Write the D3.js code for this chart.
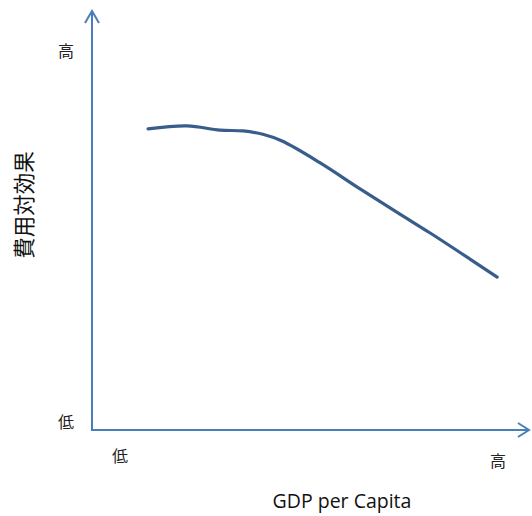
<!DOCTYPE html>
<html><head><meta charset="utf-8">
<script src="https://cdn.jsdelivr.net/npm/d3@7"></script>
<style>html,body{margin:0;padding:0;background:#fff;}svg{display:block;}</style>
</head><body>
<svg id="c" width="532" height="516"></svg>
<script>
const gdp = [12.8, 21.7, 29.2, 34.5, 39.0, 43.4, 52.1, 61.2, 70.3, 77.2, 86.3, 92.5];
const costEff = [71.7, 72.4, 71.4, 71.2, 70.4, 68.8, 63.6, 57.4, 51.4, 46.9, 40.7, 36.4];
const xTickLabels = ["低", "高"];
const xTickValues = [6.4, 92.7];
const yTickLabels = ["低", "高"];
const yTickValues = [2.1, 90.5];
const xTitle = "GDP per Capita";
const yTitle = "費用対効果";

const svg = d3.select("#c");
const x = d3.scaleLinear().domain([0, 100]).range([92, 530]);
const y = d3.scaleLinear().domain([0, 100]).range([430, 10]);
const axisColor = "#4a7ebb";
const cjk = "'Noto Sans CJK JP', 'Noto Sans', sans-serif";

// axes lines with open arrowheads
svg.append("line").attr("x1", x(0)).attr("y1", y(0)).attr("x2", x(0)).attr("y2", y(100) + 1)
  .attr("stroke", axisColor).attr("stroke-width", 2);
svg.append("path").attr("d", `M${x(0)-7},${y(100)+13} L${x(0)},${y(100)+1} L${x(0)+7},${y(100)+13}`)
  .attr("fill", "none").attr("stroke", axisColor).attr("stroke-width", 2);
svg.append("line").attr("x1", x(0) - 1).attr("y1", y(0)).attr("x2", x(100) - 1).attr("y2", y(0))
  .attr("stroke", axisColor).attr("stroke-width", 2);
svg.append("path").attr("d", `M${x(100)-12},${y(0)-7} L${x(100)-1},${y(0)} L${x(100)-12},${y(0)+7}`)
  .attr("fill", "none").attr("stroke", axisColor).attr("stroke-width", 2);

// tick labels
svg.selectAll(".yt").data(yTickLabels).enter().append("text")
  .attr("x", 66).attr("y", (d, i) => y(yTickValues[i]))
  .attr("text-anchor", "middle").attr("dominant-baseline", "central")
  .attr("font-family", cjk).attr("font-size", 16).attr("fill", "#222").text(d => d);
svg.selectAll(".xt").data(xTickLabels).enter().append("text")
  .attr("x", (d, i) => x(xTickValues[i])).attr("y", (d, i) => i === 0 ? 455 : 460)
  .attr("text-anchor", "middle").attr("dominant-baseline", "central")
  .attr("font-family", cjk).attr("font-size", 16).attr("fill", "#222").text(d => d);

// titles
svg.append("text").attr("x", 342).attr("y", 500).attr("text-anchor", "middle")
  .attr("dominant-baseline", "central")
  .attr("font-family", "'Open Sans', 'Noto Sans', sans-serif").attr("font-size", 19.5).attr("fill", "#111")
  .text(xTitle);
svg.append("text").attr("transform", "translate(22,205) rotate(-90)")
  .attr("text-anchor", "middle").attr("dominant-baseline", "central")
  .attr("font-family", cjk).attr("font-size", 21.5).attr("fill", "#111").text(yTitle);

// curve
const line = d3.line().x((d, i) => x(gdp[i])).y(d => y(d)).curve(d3.curveCatmullRom.alpha(0.5));
svg.append("path").datum(costEff).attr("d", line)
  .attr("fill", "none").attr("stroke", "#385d8a").attr("stroke-width", 3.2).attr("stroke-linecap", "round");
</script>
</body></html>
